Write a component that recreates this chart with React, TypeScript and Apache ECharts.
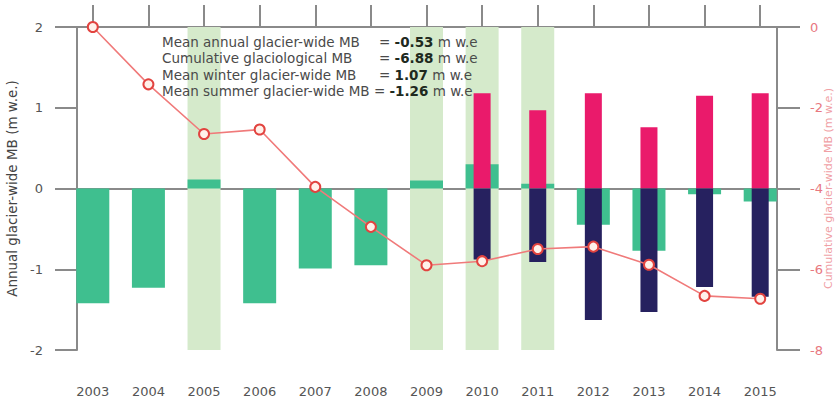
import React, { useEffect, useRef } from "react";
import * as echarts from "echarts";

// Hydrological years
const years = ["2003", "2004", "2005", "2006", "2007", "2008", "2009", "2010", "2011", "2012", "2013", "2014", "2015"];

// Annual glacier-wide mass balance (m w.e.)
const annualMB = [-1.42, -1.23, 0.11, -1.42, -0.99, -0.95, 0.1, 0.3, 0.06, -0.45, -0.77, -0.07, -0.16];

// Seasonal glacier-wide mass balance (m w.e.), measured from 2010 on
const winterMB = [null, null, null, null, null, null, null, 1.18, 0.97, 1.18, 0.76, 1.15, 1.18];
const summerMB = [null, null, null, null, null, null, null, -0.88, -0.91, -1.63, -1.53, -1.22, -1.34];

// Cumulative glaciological mass balance at the start of each year (m w.e.)
const cumulativeMB = [0, -1.42, -2.65, -2.54, -3.96, -4.95, -5.9, -5.8, -5.5, -5.44, -5.89, -6.66, -6.73];

// Years shaded in the background
const shadedYears = [0, 0, 1, 0, 0, 0, 1, 1, 1, 0, 0, 0, 0];

// Summary statistics
const summaryLabels = [
  "Mean annual glacier-wide MB",
  "Cumulative glaciological MB",
  "Mean winter glacier-wide MB",
  "Mean summer glacier-wide MB",
];
const summaryValues = ["-0.53", "-6.88", "1.07", "-1.26"];

const leftTicks = { min: -2, max: 2, interval: 1 };
const rightTicks = { min: -8, max: 0, interval: 2 };

const FONT = "DejaVu Sans";
const AXIS_GREY = "#8a8a8a";
const TEXT_GREY = "#555555";
const RED_TEXT = "#e8787f";

export default function App() {
  const ref = useRef<HTMLDivElement>(null);

  useEffect(() => {
    if (!ref.current) return;
    const chart = echarts.init(ref.current, undefined, { renderer: "svg" });

    const axisLine = { show: true, lineStyle: { color: AXIS_GREY, width: 2 } };
    const axisTick = (len: number) => ({
      show: true,
      inside: false,
      length: len,
      lineStyle: { color: AXIS_GREY, width: 2 },
    });

    const valueRich = {
      v: { fontFamily: FONT, fontSize: 13.5, fontWeight: "bold", fill: "#1e2a1e" },
    };

    const summaryGraphics: any[] = [];
    summaryLabels.forEach((label, i) => {
      const y = 42 + i * 16.3;
      const last = i === summaryLabels.length - 1;
      summaryGraphics.push({
        type: "text",
        x: 162,
        y,
        style: {
          text: last ? `${label} = {v|${summaryValues[i]}} m w.e` : label,
          fontFamily: FONT,
          fontSize: 13.5,
          fill: "#4a4a4a",
          verticalAlign: "middle",
          rich: valueRich,
        },
        z: 20,
      });
      if (!last) {
        summaryGraphics.push({
          type: "text",
          x: 379,
          y,
          style: {
            text: `= {v|${summaryValues[i]}} m w.e`,
            fontFamily: FONT,
            fontSize: 13.5,
            fill: "#4a4a4a",
            verticalAlign: "middle",
            rich: valueRich,
          },
          z: 20,
        });
      }
    });

    chart.setOption({
      animation: false,
      backgroundColor: "#ffffff",
      textStyle: { fontFamily: FONT },
      grid: { left: 65, right: 48, top: 27, bottom: 48, outerBoundsMode: "none", containLabel: false },
      xAxis: [
        {
          type: "category",
          position: "bottom",
          data: years,
          axisLine,
          axisTick: { ...axisTick(22), alignWithLabel: true },
          axisLabel: { color: TEXT_GREY, fontSize: 13, margin: 35, fontFamily: FONT },
          splitLine: { show: false },
        },
        {
          type: "category",
          position: "top",
          data: years,
          axisLine,
          axisTick: { ...axisTick(22), alignWithLabel: true },
          axisLabel: { show: false },
          splitLine: { show: false },
        },
        {
          type: "category",
          position: "bottom",
          data: years,
          show: false,
        },
      ],
      yAxis: [
        {
          type: "value",
          position: "left",
          offset: -12,
          ...leftTicks,
          axisLine,
          axisTick: axisTick(22),
          axisLabel: { color: TEXT_GREY, fontSize: 13, margin: 34, fontFamily: FONT },
          splitLine: { show: false },
          name: "Annual glacier-wide MB (m w.e.)",
          nameLocation: "middle",
          nameRotate: 90,
          nameGap: 57,
          nameTextStyle: { color: "#444444", fontSize: 13.5, fontFamily: FONT },
        },
        {
          type: "value",
          position: "right",
          offset: -11,
          ...rightTicks,
          axisLine,
          axisTick: axisTick(23),
          axisLabel: { color: RED_TEXT, fontSize: 13, margin: 33, fontFamily: FONT },
          splitLine: { show: false },
          name: "Cumulative glacier-wide MB (m w.e.)",
          nameLocation: "middle",
          nameRotate: 90,
          nameGap: 46,
          nameMoveOverlap: false,
          nameTextStyle: { color: "#f0a0a5", fontSize: 11, fontFamily: FONT },
        },
        {
          type: "value",
          min: 0,
          max: 1,
          show: false,
        },
      ],
      series: [
        {
          name: "shaded",
          type: "bar",
          xAxisIndex: 1,
          yAxisIndex: 2,
          barWidth: 33,
          data: shadedYears.map((s) => (s ? 1 : null)),
          itemStyle: { color: "#d5eacb" },
          z: 1,
        },
        {
          name: "Annual",
          type: "bar",
          xAxisIndex: 0,
          yAxisIndex: 0,
          barWidth: 33,
          data: annualMB,
          itemStyle: { color: "#3fbf8f" },
          z: 2,
        },
        {
          name: "Winter",
          type: "bar",
          xAxisIndex: 2,
          yAxisIndex: 0,
          barWidth: 17,
          barGap: "-100%",
          data: winterMB,
          itemStyle: { color: "#ea1a6b" },
          z: 3,
        },
        {
          name: "Summer",
          type: "bar",
          xAxisIndex: 2,
          yAxisIndex: 0,
          barWidth: 17,
          barGap: "-100%",
          data: summerMB,
          itemStyle: { color: "#26215f" },
          z: 3,
        },
        {
          name: "Cumulative",
          type: "line",
          xAxisIndex: 0,
          yAxisIndex: 1,
          data: cumulativeMB,
          symbol: "circle",
          symbolSize: 10,
          lineStyle: { color: "#f07a7a", width: 1.6 },
          itemStyle: { color: "#fff1ea", borderColor: "#e2433f", borderWidth: 2 },
          z: 5,
        },
      ],
      graphic: summaryGraphics,
    });

    return () => chart.dispose();
  }, []);

  return (
    <div
      ref={ref}
      style={{ position: "absolute", left: 0, top: 0, width: 836, height: 398 }}
    />
  );
}
